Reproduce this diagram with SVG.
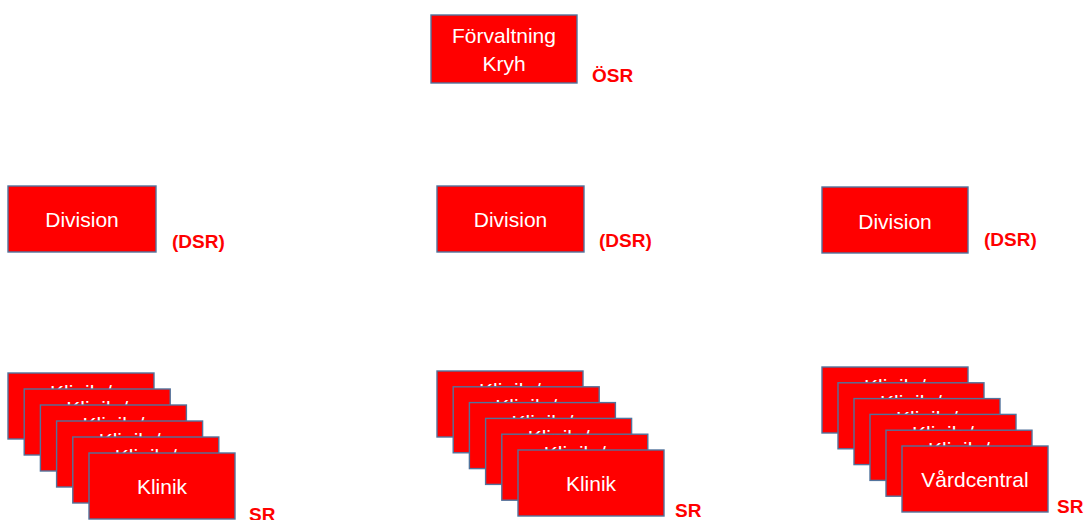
<svg xmlns="http://www.w3.org/2000/svg" width="1085" height="520" viewBox="0 0 1085 520">
  <style>
    .box { fill: #FF0000; stroke: #52739C; stroke-width: 1.4; }
    .lbl { fill: #FFFFFF; font-family: "Liberation Sans", Arial, sans-serif; font-size: 21px; text-anchor: middle; }
    .tag { fill: #FF0000; font-family: "Liberation Sans", Arial, sans-serif; font-size: 19px; font-weight: bold; }
  </style>
  <rect width="1085" height="520" fill="#FFFFFF"/>

  <!-- Top level -->
  <g id="forvaltning">
    <rect class="box" x="431" y="15" width="146" height="68"/>
    <text class="lbl" x="504" y="43">Förvaltning</text>
    <text class="lbl" x="504" y="71">Kryh</text>
    <text class="tag" x="592" y="82">ÖSR</text>
  </g>

  <!-- Divisions -->
  <g id="division-1">
    <rect class="box" x="8" y="186" width="148" height="66"/>
    <text class="lbl" x="82" y="226.5">Division</text>
    <text class="tag" x="172" y="248">(DSR)</text>
  </g>
  <g id="division-2">
    <rect class="box" x="437" y="186" width="147" height="66"/>
    <text class="lbl" x="510.5" y="226.5">Division</text>
    <text class="tag" x="599" y="247">(DSR)</text>
  </g>
  <g id="division-3">
    <rect class="box" x="822" y="187" width="146" height="66"/>
    <text class="lbl" x="895" y="228.5">Division</text>
    <text class="tag" x="984" y="246">(DSR)</text>
  </g>

  <!-- Clinic stack under division 1 -->
  <g id="kliniker-1">
    <rect class="box" x="8" y="373" width="146" height="66"/>
    <text class="lbl" x="81" y="400">Klinik /</text>
    <rect class="box" x="24.2" y="389" width="146" height="66"/>
    <text class="lbl" x="97.2" y="416">Klinik /</text>
    <rect class="box" x="40.4" y="405" width="146" height="66"/>
    <text class="lbl" x="113.4" y="432">Klinik /</text>
    <rect class="box" x="56.6" y="421" width="146" height="66"/>
    <text class="lbl" x="129.6" y="448">Klinik /</text>
    <rect class="box" x="72.8" y="437" width="146" height="66"/>
    <text class="lbl" x="145.8" y="464">Klinik /</text>
    <rect class="box" x="89" y="453" width="146" height="66"/>
    <text class="lbl" x="162" y="494">Klinik</text>
    <text class="tag" x="249" y="521">SR</text>
  </g>

  <!-- Clinic stack under division 2 -->
  <g id="kliniker-2">
    <rect class="box" x="437" y="371" width="146" height="66"/>
    <text class="lbl" x="510" y="398">Klinik /</text>
    <rect class="box" x="453.2" y="386.8" width="146" height="66"/>
    <text class="lbl" x="526.2" y="413.8">Klinik /</text>
    <rect class="box" x="469.4" y="402.6" width="146" height="66"/>
    <text class="lbl" x="542.4" y="429.6">Klinik /</text>
    <rect class="box" x="485.6" y="418.4" width="146" height="66"/>
    <text class="lbl" x="558.6" y="445.4">Klinik /</text>
    <rect class="box" x="501.8" y="434.2" width="146" height="66"/>
    <text class="lbl" x="574.8" y="461.2">Klinik /</text>
    <rect class="box" x="518" y="450" width="146" height="66"/>
    <text class="lbl" x="591" y="491">Klinik</text>
    <text class="tag" x="675" y="517">SR</text>
  </g>

  <!-- Clinic / health-centre stack under division 3 -->
  <g id="kliniker-3">
    <rect class="box" x="822" y="367" width="146" height="66"/>
    <text class="lbl" x="895" y="394">Klinik /</text>
    <rect class="box" x="838" y="382.8" width="146" height="66"/>
    <text class="lbl" x="911" y="409.8">Klinik /</text>
    <rect class="box" x="854" y="398.6" width="146" height="66"/>
    <text class="lbl" x="927" y="425.6">Klinik /</text>
    <rect class="box" x="870" y="414.4" width="146" height="66"/>
    <text class="lbl" x="943" y="441.4">Klinik /</text>
    <rect class="box" x="886" y="430.2" width="146" height="66"/>
    <text class="lbl" x="959" y="457.2">Klinik /</text>
    <rect class="box" x="902" y="446" width="146" height="66"/>
    <text class="lbl" x="975" y="487">Vårdcentral</text>
    <text class="tag" x="1057" y="513">SR</text>
  </g>
</svg>
